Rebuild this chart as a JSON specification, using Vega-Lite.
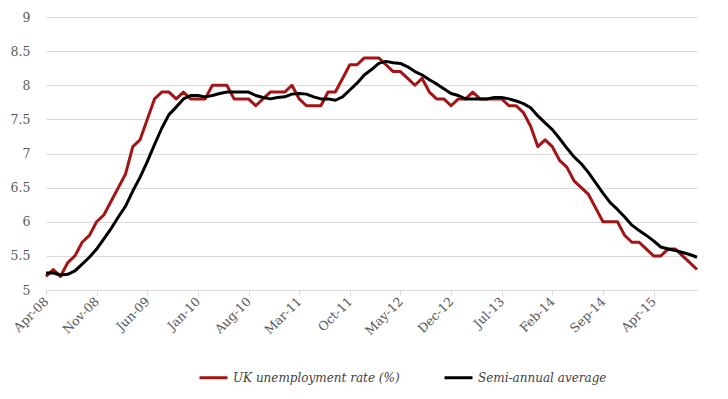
{
  "$schema": "https://vega.github.io/schema/vega-lite/v6.json",
  "autosize": {"type": "none"},
  "width": 651,
  "height": 273,
  "padding": {"left": 46, "top": 17, "right": 31, "bottom": 109},
  "background": "#ffffff",
  "config": {
    "view": {"stroke": null},
    "font": "DejaVu Serif",
    "axis": {"labelFont": "DejaVu Serif", "labelColor": "#595959", "labelFontSize": 12.5},
    "legend": {"labelFont": "DejaVu Serif"}
  },
  "data": {"values": [
    {"m":"Apr-08","rate":5.2,"avg":5.25},{"m":"May-08","rate":5.3,"avg":5.25},{"m":"Jun-08","rate":5.2,"avg":5.22},{"m":"Jul-08","rate":5.4,"avg":5.23},
    {"m":"Aug-08","rate":5.5,"avg":5.28},{"m":"Sep-08","rate":5.7,"avg":5.38},{"m":"Oct-08","rate":5.8,"avg":5.48},{"m":"Nov-08","rate":6.0,"avg":5.6},
    {"m":"Dec-08","rate":6.1,"avg":5.75},{"m":"Jan-09","rate":6.3,"avg":5.9},{"m":"Feb-09","rate":6.5,"avg":6.07},{"m":"Mar-09","rate":6.7,"avg":6.23},
    {"m":"Apr-09","rate":7.1,"avg":6.45},{"m":"May-09","rate":7.2,"avg":6.65},{"m":"Jun-09","rate":7.5,"avg":6.88},{"m":"Jul-09","rate":7.8,"avg":7.13},
    {"m":"Aug-09","rate":7.9,"avg":7.37},{"m":"Sep-09","rate":7.9,"avg":7.57},{"m":"Oct-09","rate":7.8,"avg":7.68},{"m":"Nov-09","rate":7.9,"avg":7.8},
    {"m":"Dec-09","rate":7.8,"avg":7.85},{"m":"Jan-10","rate":7.8,"avg":7.85},{"m":"Feb-10","rate":7.8,"avg":7.83},{"m":"Mar-10","rate":8.0,"avg":7.85},
    {"m":"Apr-10","rate":8.0,"avg":7.88},{"m":"May-10","rate":8.0,"avg":7.9},{"m":"Jun-10","rate":7.8,"avg":7.9},{"m":"Jul-10","rate":7.8,"avg":7.9},
    {"m":"Aug-10","rate":7.8,"avg":7.9},{"m":"Sep-10","rate":7.7,"avg":7.85},{"m":"Oct-10","rate":7.8,"avg":7.82},{"m":"Nov-10","rate":7.9,"avg":7.8},
    {"m":"Dec-10","rate":7.9,"avg":7.82},{"m":"Jan-11","rate":7.9,"avg":7.83},{"m":"Feb-11","rate":8.0,"avg":7.87},{"m":"Mar-11","rate":7.8,"avg":7.88},
    {"m":"Apr-11","rate":7.7,"avg":7.87},{"m":"May-11","rate":7.7,"avg":7.83},{"m":"Jun-11","rate":7.7,"avg":7.8},{"m":"Jul-11","rate":7.9,"avg":7.8},
    {"m":"Aug-11","rate":7.9,"avg":7.78},{"m":"Sep-11","rate":8.1,"avg":7.83},{"m":"Oct-11","rate":8.3,"avg":7.93},{"m":"Nov-11","rate":8.3,"avg":8.03},
    {"m":"Dec-11","rate":8.4,"avg":8.15},{"m":"Jan-12","rate":8.4,"avg":8.23},{"m":"Feb-12","rate":8.4,"avg":8.32},{"m":"Mar-12","rate":8.3,"avg":8.35},
    {"m":"Apr-12","rate":8.2,"avg":8.33},{"m":"May-12","rate":8.2,"avg":8.32},{"m":"Jun-12","rate":8.1,"avg":8.27},{"m":"Jul-12","rate":8.0,"avg":8.2},
    {"m":"Aug-12","rate":8.1,"avg":8.15},{"m":"Sep-12","rate":7.9,"avg":8.08},{"m":"Oct-12","rate":7.8,"avg":8.02},{"m":"Nov-12","rate":7.8,"avg":7.95},
    {"m":"Dec-12","rate":7.7,"avg":7.88},{"m":"Jan-13","rate":7.8,"avg":7.85},{"m":"Feb-13","rate":7.8,"avg":7.8},{"m":"Mar-13","rate":7.9,"avg":7.8},
    {"m":"Apr-13","rate":7.8,"avg":7.8},{"m":"May-13","rate":7.8,"avg":7.8},{"m":"Jun-13","rate":7.8,"avg":7.82},{"m":"Jul-13","rate":7.8,"avg":7.82},
    {"m":"Aug-13","rate":7.7,"avg":7.8},{"m":"Sep-13","rate":7.7,"avg":7.77},{"m":"Oct-13","rate":7.6,"avg":7.73},{"m":"Nov-13","rate":7.4,"avg":7.67},
    {"m":"Dec-13","rate":7.1,"avg":7.55},{"m":"Jan-14","rate":7.2,"avg":7.45},{"m":"Feb-14","rate":7.1,"avg":7.35},{"m":"Mar-14","rate":6.9,"avg":7.22},
    {"m":"Apr-14","rate":6.8,"avg":7.08},{"m":"May-14","rate":6.6,"avg":6.95},{"m":"Jun-14","rate":6.5,"avg":6.85},{"m":"Jul-14","rate":6.4,"avg":6.72},
    {"m":"Aug-14","rate":6.2,"avg":6.57},{"m":"Sep-14","rate":6.0,"avg":6.42},{"m":"Oct-14","rate":6.0,"avg":6.28},{"m":"Nov-14","rate":6.0,"avg":6.18},
    {"m":"Dec-14","rate":5.8,"avg":6.07},{"m":"Jan-15","rate":5.7,"avg":5.95},{"m":"Feb-15","rate":5.7,"avg":5.87},{"m":"Mar-15","rate":5.6,"avg":5.8},
    {"m":"Apr-15","rate":5.5,"avg":5.72},{"m":"May-15","rate":5.5,"avg":5.63},{"m":"Jun-15","rate":5.6,"avg":5.6},{"m":"Jul-15","rate":5.6,"avg":5.58},
    {"m":"Aug-15","rate":5.5,"avg":5.55},{"m":"Sep-15","rate":5.4,"avg":5.52},{"m":"Oct-15","rate":5.3,"avg":5.48}
  ]},
  "encoding": {
    "x": {
      "field": "m", "type": "ordinal", "sort": null,
      "scale": {"type": "point", "padding": 0},
      "axis": {
        "title": null,
        "values": ["Apr-08","Nov-08","Jun-09","Jan-10","Aug-10","Mar-11","Oct-11","May-12","Dec-12","Jul-13","Feb-14","Sep-14","Apr-15"],
        "labelAngle": -45, "labelAlign": "right", "labelBaseline": "middle",
        "labelPadding": 4, "labelFontSize": 12.5, "labelFont": "DejaVu Serif",
        "domain": true, "domainColor": "#d9d9d9", "domainWidth": 1,
        "ticks": true, "tickColor": "#d9d9d9", "tickSize": 5,
        "grid": false
      }
    }
  },
  "layer": [
    {
      "mark": {"type": "line", "strokeWidth": 3, "strokeJoin": "round"},
      "encoding": {
        "y": {
          "field": "rate", "type": "quantitative",
          "scale": {"domain": [5, 9], "nice": false, "zero": false},
          "axis": {
            "title": null, "values": [5, 5.5, 6, 6.5, 7, 7.5, 8, 8.5, 9], "format": ".1~f",
            "domain": false, "ticks": false, "labelPadding": 16, "labelOverlap": false,
            "labelFont": "DejaVu Serif", "labelFontSize": 12.5,
            "grid": true, "gridColor": "#d9d9d9", "gridWidth": 1
          }
        },
        "color": {
          "datum": "UK unemployment rate (%)",
          "scale": {"domain": ["UK unemployment rate (%)", "Semi-annual average"], "range": ["#a31515", "#000000"]},
          "legend": {
            "title": null, "orient": "none", "legendX": 152, "legendY": 345,
            "direction": "horizontal", "symbolType": "stroke", "symbolSize": 784,
            "symbolStrokeWidth": 3, "labelFontStyle": "italic", "labelFont": "DejaVu Serif",
            "labelFontSize": 12, "labelColor": "#404040", "labelOffset": 4, "columnPadding": 38,
            "labelLimit": 400
          }
        }
      }
    },
    {
      "mark": {"type": "line", "strokeWidth": 3, "strokeJoin": "round"},
      "encoding": {
        "y": {
          "field": "avg", "type": "quantitative",
          "scale": {"domain": [5, 9], "nice": false, "zero": false},
          "axis": {
            "title": null, "values": [5, 5.5, 6, 6.5, 7, 7.5, 8, 8.5, 9], "format": ".1~f",
            "domain": false, "ticks": false, "labelPadding": 16, "labelOverlap": false,
            "labelFont": "DejaVu Serif", "labelFontSize": 12.5,
            "grid": true, "gridColor": "#d9d9d9", "gridWidth": 1
          }
        },
        "color": {"datum": "Semi-annual average"}
      }
    }
  ]
}
